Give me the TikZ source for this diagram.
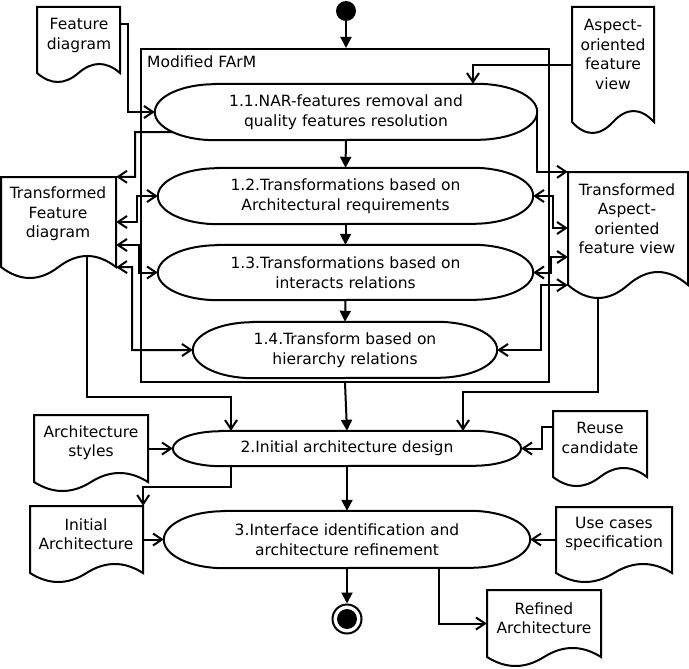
\documentclass[tikz,border=0pt]{standalone}
\usepackage{fontspec}
\setmainfont{DejaVu Sans}
\usetikzlibrary{arrows.meta,calc}

% Activity: a box with half-elliptic ends. name, cx, cy, width, height, end radius, text
\newcommand\actnode[7]{%
  \node[acttext, minimum width=#4pt, minimum height=#5pt] (#1) at (#2,#3) {#7};
  \draw[shapeline] ([xshift=#6pt]#1.north west) -- ([xshift=-#6pt]#1.north east)
    arc[start angle=90, end angle=-90, x radius=#6pt, y radius={#5/2*1pt}]
    -- ([xshift=#6pt]#1.south west)
    arc[start angle=270, end angle=90, x radius=#6pt, y radius={#5/2*1pt}] -- cycle;
}

% Document: box with a wavy lower edge. name, left, top, right, edge end, wave depth, text x, text y, text
\newcommand\docnode[9]{%
  \node[docbox, minimum width={(#4-#2)*1pt}, minimum height={(#5-#3)*1pt}] (#1) at ({(#2+#4)/2},{(#3+#5)/2}) {};
  \draw[shapeline] (#2,#3) -- (#4,#3) -- (#4,#5)
    .. controls ({#4-(#4-#2)/6},{#5-4*#6/3}) and ({#4-(#4-#2)/3},{#5-4*#6/3}) .. ({(#2+#4)/2},#5)
    .. controls ({#2+(#4-#2)/3},{#5+4*#6/3}) and ({#2+(#4-#2)/6},{#5+4*#6/3}) .. (#2,#5) -- cycle;
  \node[doctext] (#1-text) at (#7,#8) {#9};
}

\tikzset{
  shapeline/.style={line width=2pt, line join=miter},
  acttext/.style={inner sep=0pt, align=center},
  docbox/.style={inner sep=0pt},
  doctext/.style={inner sep=0pt, align=center},
  flow/.style={line width=2pt, -{Straight Barb[length=9pt,width=12pt]}},
  biflow/.style={line width=2pt, {Straight Barb[length=9pt,width=12pt]}-{Straight Barb[length=9pt,width=12pt]}},
  ctrl/.style={line width=2pt, -{Triangle[length=11pt,width=11pt]}},
}

\begin{document}
\begin{tikzpicture}[x=1pt,y=-1pt,font=\fontsize{15.5}{19.5}\selectfont]
\useasboundingbox (0,0) rectangle (689,669);

% initial and final states
\node[circle, fill, minimum size=20pt, inner sep=0pt] (start) at (346,11) {};
\node[circle, draw, line width=2pt, minimum size=29pt, inner sep=0pt] (end) at (347,619) {};
\node[circle, fill, minimum size=20pt, inner sep=0pt] (endcore) at (end.center) {};

% Modified FArM frame
\node[draw, line width=2pt, minimum width=408pt, minimum height=333pt, inner sep=0pt] (farm) at (345,215.5) {};
\node[anchor=base west, inner sep=0pt] (farmlabel) at (147,68) {Modified FArM};

% activities
\actnode{a11}{346}{112}{382}{56}{60}{1.1.NAR-features removal and\\quality features resolution}
\actnode{a12}{345.5}{196}{375}{56}{60}{1.2.Transformations based on\\Architectural requirements}
\actnode{a13}{345.5}{272.5}{375}{55}{60}{1.3.Transformations based on\\interacts relations}
\actnode{a14}{345}{350}{304}{56}{60}{1.4.Transform based on\\hierarchy relations}
\actnode{a2}{347}{448.5}{348}{35}{48}{2.Initial architecture design}
\actnode{a3}{347}{539.5}{366}{57}{60}{3.Interface identification and\\architecture refinement}

% documents
\docnode{fd}{37}{7}{120}{73}{9}{79}{35.5}{Feature\\diagram}
\docnode{aofv}{572}{7}{654}{122}{11}{613}{54.5}{Aspect-\\oriented\\feature\\view}
\docnode{tfd}{1}{177}{116}{267}{11}{58}{214}{Transformed\\Feature\\diagram}
\docnode{taofv}{568}{172}{688}{285}{13}{627}{218.5}{Transformed\\Aspect-\\oriented\\feature view}
\docnode{as}{34}{415}{148}{482}{9}{91}{442.5}{Architecture\\styles}
\docnode{ia}{30}{506}{143}{573}{9}{86}{534}{Initial\\Architecture}
\docnode{rc}{553}{411}{647}{477}{9}{600}{438}{Reuse\\candidate}
\docnode{ucs}{556}{507}{672}{573}{9}{614}{534}{Use cases\\specification}
\docnode{ra}{487}{590}{601}{657}{9}{544}{618}{Refined\\Architecture}

% control flow
\draw[ctrl] (start) -- (start |- farm.north);
\draw[ctrl] (a11.south) -- (a12.north);
\draw[ctrl] (a12.south) -- (a13.north);
\draw[ctrl] (a13.south) -- (a14.north);
\draw[ctrl] (farm.south) -- (a2.north);
\draw[ctrl] (a2.south) -- (a3.north);
\draw[ctrl] (a3.south) -- (end.north);

% object flow around FArM
\draw[flow] (fd.east |- 0,24) -- (128,24) |- (a11.west);
\draw[flow] (aofv.west |- 0,65) -| (a11.north -| 473,0);
\draw[flow] ([xshift=18pt,yshift=8pt]a11.south west) -- (135,132) |- (tfd.north east);
\draw[flow] (a11.east) |- (taofv.north west);
\draw[biflow] (tfd.east |- 0,222) -- (137,222) |- (a12.west);
\draw[biflow] (tfd.east |- 0,245) -- (139,245) |- (a13.west);
\draw[biflow] (tfd.south east) -- (132,267) |- (a14.west);
\draw[biflow] (a12.east) -- (553,196) |- (taofv.west |- 0,228);
\draw[biflow] (a13.east) -- (551,272.5) |- (taofv.west |- 0,257);
\draw[biflow] (a14.east) -- (541,350) |- (taofv.south west);

% object flow to the design steps
\draw[flow] ([xshift=-29pt,yshift=11pt]tfd.south east) |- (231,397) -- (a2.north -| 231,0);
\draw[flow] ([xshift=30pt,yshift=-13pt]taofv.south west) |- (463,392) -- (a2.north -| 463,0);
\draw[flow] (as.east |- a2.west) -- (a2.west);
\draw[flow] (rc.west |- 0,427) -- (542,427) |- (a2.east);
\draw[flow] (a2.south -| 231,0) -- (231,487) -| (ia.north east);
\draw[flow] (ia.east |- a3.west) -- (a3.west);
\draw[flow] (ucs.west |- a3.east) -- (a3.east);
\draw[flow] (a3.south -| 439,0) |- (ra.west);
\end{tikzpicture}
\end{document}
